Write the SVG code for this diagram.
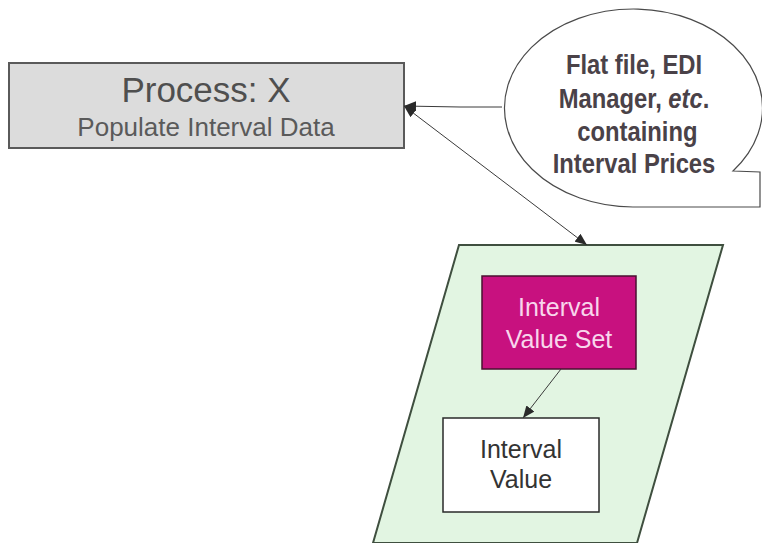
<svg xmlns="http://www.w3.org/2000/svg" width="762" height="543" viewBox="0 0 762 543">
<style>
  .t { font-family: "Liberation Sans", Arial, sans-serif; text-anchor: middle; }
  .conn { stroke: #3a3a3a; stroke-width: 1; fill: none; }
  .bub { font-family: "Liberation Sans", Arial, sans-serif; font-weight: bold; font-size: 28px; fill: #4a4248; text-anchor: middle; }
</style>
<defs>
  <marker id="ah" viewBox="0 0 12 10" refX="12" refY="5" markerWidth="12" markerHeight="10" markerUnits="userSpaceOnUse" orient="auto-start-reverse">
    <path d="M0,0 L12,5 L0,10 Z" fill="#2a2a2a"/>
  </marker>
</defs>
<rect width="762" height="543" fill="#ffffff"/>

<g id="process">
  <rect x="9" y="63" width="395" height="85" fill="#dcdcdc" stroke="#5a5a5a" stroke-width="2"/>
  <text class="t" x="206" y="102" font-size="35" fill="#4f4f4f">Process: X</text>
  <text class="t" x="206" y="136" font-size="26" fill="#5a5a5a">Populate Interval Data</text>
</g>

<g id="bubble">
  <path d="M733,171 L760,172 L760,207 L633,207 A129,99 0 1,1 733,171 Z" fill="#ffffff" stroke="#4a4a4a" stroke-width="1.2"/>
  <g transform="translate(634,0) scale(0.85,1)">
    <text class="bub" x="0" y="74">Flat file, EDI</text>
    <text class="bub" x="0" y="108">Manager, <tspan font-style="italic">etc</tspan>.</text>
    <text class="bub" x="4" y="141">containing</text>
    <text class="bub" x="0" y="173">Interval Prices</text>
  </g>
</g>

<g id="datastore">
  <polygon points="459,245 723,245 637,543 373,543" fill="#e2f5e2" stroke="#3f4f3f" stroke-width="2"/>
</g>

<g id="interval-value-set">
  <rect x="482" y="276" width="154" height="93" fill="#c8117f" stroke="#4a1030" stroke-width="1.5"/>
  <text class="t" x="559" y="316" font-size="25" fill="#f8d6ec">Interval</text>
  <text class="t" x="559" y="348" font-size="25" fill="#f8d6ec">Value Set</text>
</g>

<g id="interval-value">
  <rect x="443" y="418" width="156" height="94" fill="#ffffff" stroke="#2a2a2a" stroke-width="1.5"/>
  <text class="t" x="521" y="458" font-size="25" fill="#333333">Interval</text>
  <text class="t" x="521" y="488" font-size="25" fill="#333333">Value</text>
</g>

<g id="connectors">
  <polyline class="conn" points="502,107 460,107 404,106" marker-end="url(#ah)"/>
  <line class="conn" x1="404" y1="106" x2="587" y2="245" marker-start="url(#ah)" marker-end="url(#ah)"/>
  <line class="conn" x1="561" y1="369" x2="523" y2="418" marker-end="url(#ah)"/>
</g>
</svg>
